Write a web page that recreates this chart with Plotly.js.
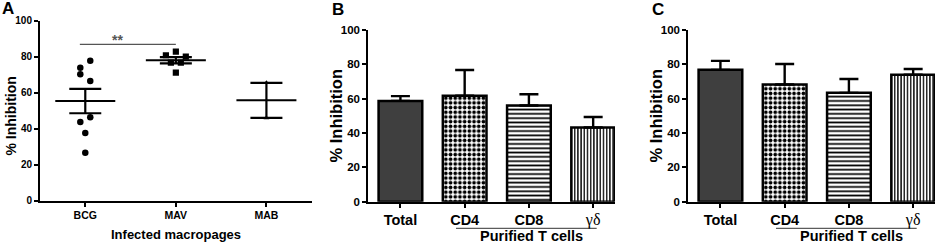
<!DOCTYPE html>
<html>
<head>
<meta charset="utf-8">
<script src="https://cdn.plot.ly/plotly-3.0.1.min.js"></script>
<style>html,body{margin:0;padding:0;background:#fff;}#chart{width:949px;height:244px;}</style>
</head>
<body>
<div id="chart"></div>
<script>
// ---------- data ----------
const groupsA = ['BCG', 'MAV', 'MAB'];
const bcgValues = [73.9, 77.8, 70.2, 66.5, 43.7, 46.3, 37.6, 26.7];
const mavValues = [80.8, 82.8, 80.0, 76.7, 76.7, 71.1];
const mabValues = [65.5, 46.0];
const sigLabel = '**';            // BCG vs MAV
const yTitle = '% Inhibition';
const xTitleA = 'Infected macropages';

const tCellLabels = ['Total', 'CD4', 'CD8', 'γδ'];
const inhibitionB = [58.7, 61.7, 56.0, 43.2];
const errorB = [2.8, 15.0, 6.6, 6.1];
const inhibitionC = [76.8, 68.3, 63.4, 73.9];
const errorC = [5.2, 11.9, 8.1, 3.4];
const bracketLabel = 'Purified T cells';

// ---------- helpers ----------
const FONT = 'Liberation Sans, Arial, sans-serif';
function mean(a) { return a.reduce((s, v) => s + v, 0) / a.length; }
function sem(a) {
  const m = mean(a);
  const sd = Math.sqrt(a.reduce((s, v) => s + (v - m) * (v - m), 0) / (a.length - 1));
  return sd / Math.sqrt(a.length);
}
// simple row-based beeswarm: points whose values lie within rowHeight share a row
function swarm(values, center, rowHeight, spacing) {
  const idx = values.map((v, i) => i).sort((a, b) => values[b] - values[a]);
  const rows = [];
  idx.forEach(i => {
    const row = rows[rows.length - 1];
    if (row && values[row.top] - values[i] <= rowHeight) row.items.push(i);
    else rows.push({ top: i, items: [i] });
  });
  const xs = new Array(values.length);
  rows.forEach(r => {
    const items = r.items.slice().sort((a, b) => a - b);
    items.forEach((i, k) => { xs[i] = center + (k - (items.length - 1) / 2) * spacing; });
  });
  return xs;
}

const groupValues = [bcgValues, mavValues, mabValues];
const symbols = ['circle', 'square', 'triangle-up'];
const sizes = [6.5, 6.2, 5];

const traces = [];
groupValues.forEach((vals, g) => {
  traces.push({
    type: 'scatter', mode: 'markers', xaxis: 'x', yaxis: 'y',
    x: swarm(vals, g, 4.5, 0.11), y: vals,
    marker: { symbol: symbols[g], size: sizes[g], color: '#000' },
    hoverinfo: 'y'
  });
});
// mean +/- SEM
traces.push({
  type: 'scatter', mode: 'markers', xaxis: 'x', yaxis: 'y',
  x: groupsA.map((g, i) => i), y: groupValues.map(mean),
  marker: { symbol: 'line-ew-open', size: 60 / 1.4, color: '#000', line: { color: '#000', width: 2 } },
  error_y: { type: 'data', array: groupValues.map(sem), visible: true, color: '#000', thickness: 2.2, width: 16 },
  hoverinfo: 'y'
});

const patShapes = ['', '.', '-', '|'];
const patSizes = [5, 4.7, 4.3, 3.2];
const patSolid = [0.3, 0.5, 0.4, 0.42];
const barColors = ['#3f3f3f', '#000', '#000', '#000'];
function barTrace(vals, errs, xa, ya) {
  return {
    type: 'bar', xaxis: xa, yaxis: ya,
    x: tCellLabels.map((t, i) => i), y: vals, width: 0.68,
    marker: {
      color: barColors,
      line: { color: '#000', width: 2.5 },
      pattern: { shape: patShapes, size: patSizes, solidity: patSolid, fgcolor: '#000', bgcolor: '#fff', fillmode: 'replace' }
    },
    error_y: { type: 'data', symmetric: false, array: errs, arrayminus: errs.map(() => 0), visible: true, color: '#000', thickness: 2.4, width: 9.5 },
    hoverinfo: 'y'
  };
}
traces.push(barTrace(inhibitionB, errorB, 'x2', 'y2'));
traces.push(barTrace(inhibitionC, errorC, 'x3', 'y3'));

const W = 949, H = 244;
const px = v => v / W;
const py = v => (H - v) / H;

const tickLabelsBar = tCellLabels.map(t => t === 'γδ'
  ? '<span style="font-family:Liberation Serif, Times New Roman, serif;font-weight:normal;font-size:16px;fill:#000">' + t + '</span>' : t);

function yAxis(domain, tickSize, anchor) {
  return {
    domain: domain, range: [0, 100], anchor: anchor,
    tickvals: [0, 20, 40, 60, 80, 100], ticks: 'outside', ticklen: 4, tickwidth: 2, tickcolor: '#000',
    showline: true, linewidth: 2, linecolor: '#000', showgrid: false, zeroline: false,
    tickfont: { family: FONT, size: tickSize, color: '#000', weight: 'bold' },
    fixedrange: true
  };
}
function xAxis(domain, range, labels, tickSize, anchor) {
  return {
    domain: domain, range: range, anchor: anchor,
    tickvals: labels.map((l, i) => i), ticktext: labels,
    ticks: 'outside', ticklen: 4, tickwidth: 2, tickcolor: '#000',
    showline: true, linewidth: 2, linecolor: '#000', showgrid: false, zeroline: false,
    tickfont: { family: FONT, size: tickSize, color: '#000', weight: 'bold' },
    fixedrange: true
  };
}

const sigY = Math.max(...bcgValues, ...mavValues) + 4;
const shapes = [
  { type: 'line', xref: 'x', yref: 'y', x0: 0 - 0.06, x1: 1, y0: sigY, y1: sigY, line: { color: '#555', width: 1.3 } },
  { type: 'line', xref: 'x2', yref: 'paper', x0: 1 - 0.135, x1: 3 + 0.055, y0: py(228.3), y1: py(228.3), line: { color: '#333', width: 1 } },
  { type: 'line', xref: 'x3', yref: 'paper', x0: 1 - 0.135, x1: 3 + 0.055, y0: py(228.3), y1: py(228.3), line: { color: '#333', width: 1 } }
];
const letterFont = { family: FONT, size: 17, color: '#000', weight: 'bold' };
const boldFont = s => ({ family: FONT, size: s, color: '#000', weight: 'bold' });
const annotations = [
  { text: 'A', xref: 'paper', yref: 'paper', x: px(8.3), y: py(8.5), xanchor: 'center', yanchor: 'middle', showarrow: false, font: letterFont },
  { text: 'B', xref: 'paper', yref: 'paper', x: px(338.3), y: py(9.3), xanchor: 'center', yanchor: 'middle', showarrow: false, font: letterFont },
  { text: 'C', xref: 'paper', yref: 'paper', x: px(657.5), y: py(9.5), xanchor: 'center', yanchor: 'middle', showarrow: false, font: letterFont },
  { text: sigLabel, xref: 'x', yref: 'y', x: 0.36, y: sigY, xanchor: 'center', yanchor: 'bottom', yshift: -6, showarrow: false, font: { family: FONT, size: 14, color: '#555', weight: 'bold' } },
  { text: yTitle, xref: 'paper', yref: 'paper', x: px(10.5), y: py(116), textangle: -90, xanchor: 'center', yanchor: 'middle', showarrow: false, font: boldFont(14) },
  { text: yTitle, xref: 'paper', yref: 'paper', x: px(335.7), y: py(115.8), textangle: -90, xanchor: 'center', yanchor: 'middle', showarrow: false, font: boldFont(16.5) },
  { text: yTitle, xref: 'paper', yref: 'paper', x: px(655.7), y: py(115.8), textangle: -90, xanchor: 'center', yanchor: 'middle', showarrow: false, font: boldFont(16.5) },
  { text: xTitleA, xref: 'x', yref: 'paper', x: 1, y: py(234.5), xanchor: 'center', yanchor: 'middle', showarrow: false, font: boldFont(13) },
  { text: bracketLabel, xref: 'x2', yref: 'paper', x: 2.04, y: py(235.5), xanchor: 'center', yanchor: 'middle', showarrow: false, font: boldFont(14.5) },
  { text: bracketLabel, xref: 'x3', yref: 'paper', x: 2.04, y: py(235.5), xanchor: 'center', yanchor: 'middle', showarrow: false, font: boldFont(14.5) }
];

const layout = {
  width: W, height: H, margin: { l: 0, r: 0, t: 0, b: 0 },
  paper_bgcolor: '#fff', plot_bgcolor: 'rgba(0,0,0,0)', showlegend: false,
  bargap: 0,
  xaxis: xAxis([px(40), px(311.7)], [-0.5, 2.5], groupsA, 10.5, 'y'),
  yaxis: yAxis([py(200.7), py(20.7)], 10, 'x'),
  xaxis2: xAxis([px(368.3), px(615)], [-0.5, 3.34], tickLabelsBar, 14.5, 'y2'),
  yaxis2: yAxis([py(201.7), py(30)], 11.5, 'x2'),
  xaxis3: xAxis([px(688.3), px(935)], [-0.5, 3.34], tickLabelsBar, 14.5, 'y3'),
  yaxis3: yAxis([py(201.7), py(30)], 11.5, 'x3'),
  shapes: shapes, annotations: annotations
};

Plotly.newPlot('chart', traces, layout, { staticPlot: true, displayModeBar: false });
</script>
</body>
</html>
